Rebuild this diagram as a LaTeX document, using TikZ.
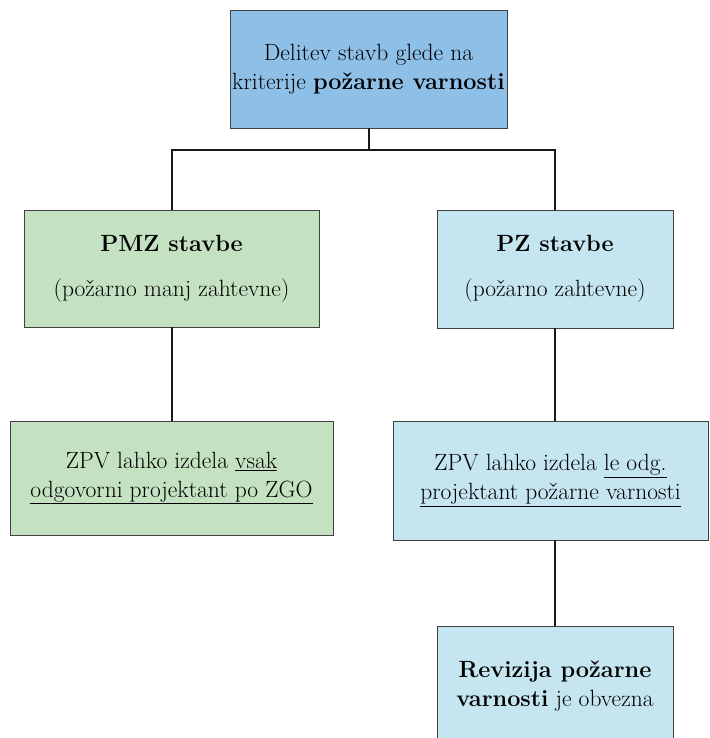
\documentclass[tikz,border=0pt]{standalone}
\usepackage{fontspec}

\tikzset{
  box/.style={draw=black!75, line width=0.9pt, align=center, inner sep=0pt,
    font=\fontsize{23.5}{29}\selectfont},
  topbox/.style={box, fill=topblue},
  greenbox/.style={box, fill=pmzgreen},
  bluebox/.style={box, fill=pzblue},
  link/.style={line width=2pt, black!90}
}
\definecolor{topblue}{HTML}{8EBFE7}
\definecolor{pmzgreen}{HTML}{C4E2C1}
\definecolor{pzblue}{HTML}{C5E6F1}

\begin{document}
\begin{tikzpicture}[x=1pt, y=-1pt]
    \useasboundingbox (0, 0) rectangle (709, 738);

    \node[topbox, minimum width=277pt, minimum height=118pt] (delitev) at (368.5, 69)
      {Delitev stavb glede na\\kriterije \textbf{požarne varnosti}};

    \node[greenbox, minimum width=295pt, minimum height=117pt] (pmz) at (171.5, 268.5)
      {\textbf{PMZ stavbe}\\[16pt](požarno manj zahtevne)};
    \node[bluebox, minimum width=236pt, minimum height=118pt] (pz) at (555, 269)
      {\textbf{PZ stavbe}\\[16pt](požarno zahtevne)};

    \node[greenbox, minimum width=323pt, minimum height=114pt] (zpvpmz) at (171.5, 478)
      {ZPV lahko izdela \underline{vsak}\\\underline{odgovorni projektant po ZGO}};
    \node[bluebox, minimum width=315pt, minimum height=119pt] (zpvpz) at (550.5, 480.5)
      {ZPV lahko izdela \underline{le odg.}\\\underline{projektant požarne varnosti}};

    \node[bluebox, minimum width=236pt, minimum height=120pt] (revizija) at (555, 686)
      {\textbf{Revizija požarne}\\\textbf{varnosti} je obvezna};

    \coordinate (split) at (368.5, 150);
    \draw[link] (delitev.south) -- (split);
    \draw[link] (pmz.north) |- (split) -| (pz.north);
    \draw[link] (pmz.south) -- (zpvpmz.north);
    \draw[link] (pz.south) -- (pz.south |- zpvpz.north);
    \draw[link] (pz.south |- zpvpz.south) -- (revizija.north);
\end{tikzpicture}
\end{document}
